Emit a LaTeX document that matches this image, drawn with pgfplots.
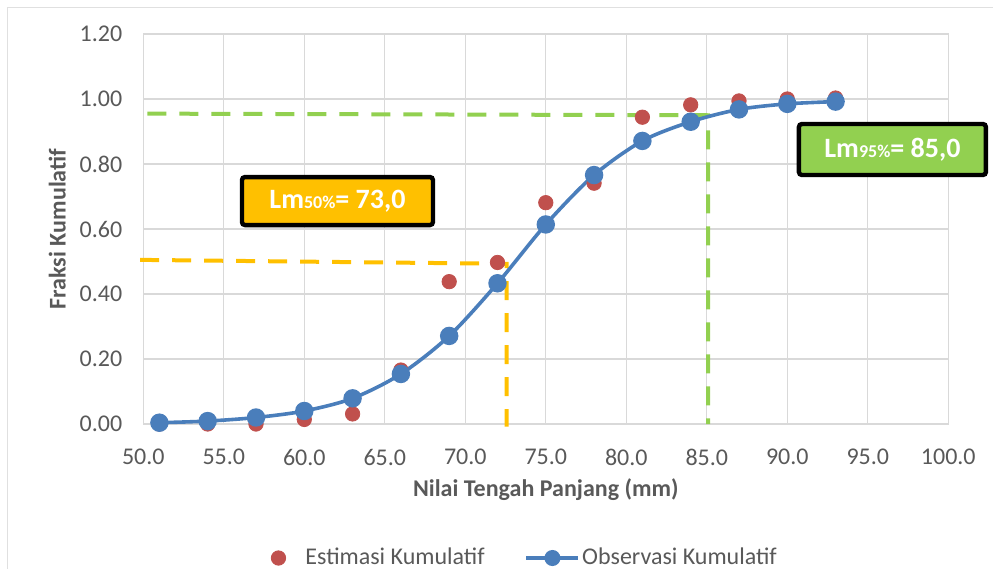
\documentclass[border=0pt]{standalone}
\usepackage{pgfplots}
\pgfplotsset{compat=1.18}
\usepackage{fontspec}
\setmainfont{Carlito}
\definecolor{redm}{RGB}{192,80,77}
\definecolor{bluem}{RGB}{74,126,187}
\definecolor{gold}{RGB}{255,192,0}
\definecolor{lgreen}{RGB}{146,208,80}
\definecolor{txt}{RGB}{89,89,89}
\definecolor{gridc}{RGB}{217,217,217}
\pgfplotsset{
  mylegimg/.style={legend image code/.code={\draw[##1, mark=none] (0pt,0pt) -- (26pt,0pt); \fill[bluem] (13pt,0pt) circle[radius=3.1pt];}},
  redlegimg/.style={legend image code/.code={\path[draw=none,fill=none] (0pt,-0.1pt) rectangle (19.5pt,0.1pt); \fill[redm] (7pt,0pt) circle[radius=3.6pt];}}
}
\begin{document}
\begin{tikzpicture}[x=1pt,y=1pt]
\path[use as bounding box] (-71.65,-72.5) rectangle (424.85,212);
\draw[black!12, line width=0.5pt] (-67.65,-72.5) -- (-67.65,208.5) -- (424.85,208.5);
\begin{axis}[
  scale only axis, width=402.5pt, height=195pt,
  xmin=50, xmax=100, ymin=0, ymax=1.2,
  xtick={50,55,60,65,70,75,80,85,90,95,100},
  ytick={0,0.2,0.4,0.6,0.8,1.0,1.2},
  grid=major, major grid style={gridc, line width=0.6pt},
  axis line style={gridc, line width=0.6pt},
  tick style={draw=none},
  ticklabel style={font=\fontsize{12}{14}\selectfont, text=txt},
  xticklabel style={yshift=-9pt},
  yticklabel style={xshift=-7pt},
  /pgf/number format/assume math mode=true,
  xticklabel={\pgfmathprintnumber[fixed,fixed zerofill,precision=1]{\tick}},
  yticklabel={\pgfmathprintnumber[fixed,fixed zerofill,precision=2]{\tick}},
  xlabel={Nilai Tengah Panjang (mm)}, ylabel={Fraksi Kumulatif},
  label style={font=\bfseries\fontsize{12}{14}\selectfont, text=txt},
  xlabel style={at={(axis description cs:0.5,-0.169)}, anchor=center},
  ylabel style={at={(axis description cs:-0.1068,0.5)}, anchor=center},
  clip=false,
  legend style={at={(0.47,-0.3436)}, anchor=center, draw=none, legend columns=2,
    font=\fontsize{12}{14}\selectfont, text=txt, nodes={inner xsep=1pt},
    /tikz/every even column/.append style={column sep=19pt}},
]
\addplot[only marks, mark=*, mark size=3.6pt, mark options={draw=redm, fill=redm}, redlegimg] coordinates {
(51,0.0) (54,0.0) (57,0.0) (60,0.014) (63,0.031) (66,0.166) (69,0.438) (72,0.497)
(75,0.681) (78,0.741) (81,0.944) (84,0.982) (87,0.994) (90,1.0) (93,1.003)};
\addlegendentry{Estimasi Kumulatif}
\addplot[forget plot, gold, line width=2pt, dash pattern=on 9.5pt off 6.5pt] coordinates {(49.8,0.505) (72.57,0.493) (72.57,-0.008)};
\addplot[forget plot, lgreen, line width=2pt, dash pattern=on 9.5pt off 6.5pt] coordinates {(50.25,0.955) (85.09,0.950) (85.09,0)};
\addplot[bluem, line width=1.8pt, smooth, mark=*, mark size=3.7pt, mark options={fill=bluem, draw=bluem}, mylegimg] coordinates {
(51,0.004) (54,0.009) (57,0.02) (60,0.04) (63,0.079) (66,0.154) (69,0.271) (72,0.433)
(75,0.614) (78,0.766) (81,0.871) (84,0.930) (87,0.968) (90,0.985) (93,0.992)};
\addlegendentry{Observasi Kumulatif}
\node[fill=gold, draw=black, line width=2.2pt, rounded corners=1.5pt, minimum width=95.5pt, minimum height=24pt, text=white, font=\bfseries\fontsize{14}{16}\selectfont, inner sep=0pt] at (axis cs:62.06,0.686) {Lm{\fontsize{9}{10}\selectfont 50\%}= 73,0};
\node[fill=lgreen, draw=black, line width=2.2pt, rounded corners=1.5pt, minimum width=93.5pt, minimum height=25.5pt, text=white, font=\bfseries\fontsize{14}{16}\selectfont, inner sep=0pt] at (axis cs:96.53,0.8446) {Lm{\fontsize{9}{10}\selectfont 95\%}= 85,0};
\end{axis}
\end{tikzpicture}
\end{document}
